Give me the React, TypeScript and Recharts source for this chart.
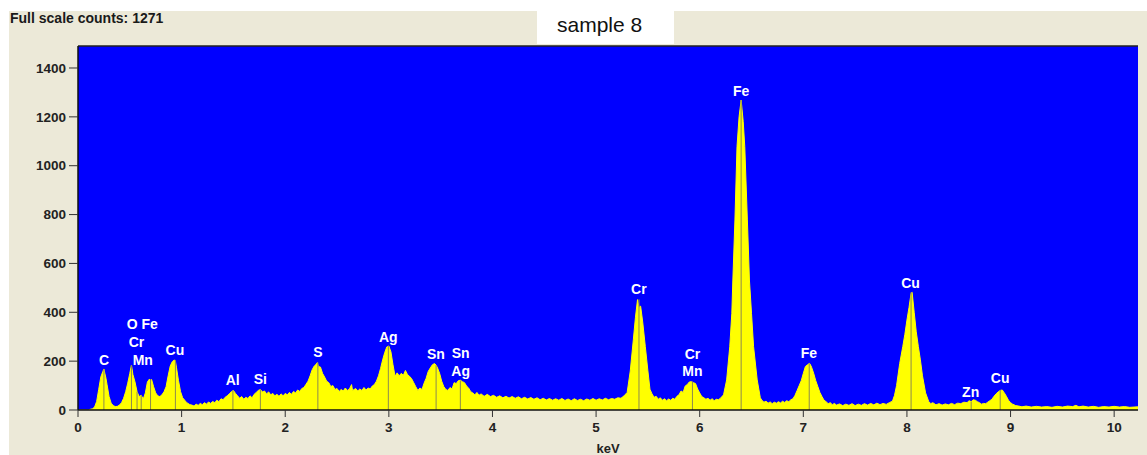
import React from 'react';
import { ComposedChart, Area, XAxis, YAxis, CartesianGrid, ReferenceLine, Scatter } from 'recharts';

// EDS spectrum, [keV, counts]
const spectrumLow: [number, number][] = [
  [0, 0], [0.1, 0], [0.12, 3], [0.14, 5], [0.16, 12], [0.18, 35], [0.2, 85], [0.22, 135], [0.24, 158],
  [0.25, 168], [0.26, 148], [0.27, 130], [0.28, 105], [0.3, 55], [0.32, 28], [0.34, 18], [0.36, 14],
  [0.38, 15], [0.4, 20], [0.42, 30], [0.44, 48], [0.46, 75], [0.48, 110], [0.5, 150], [0.516, 184],
  [0.53, 145], [0.55, 115], [0.57, 75], [0.59, 55], [0.61, 60], [0.63, 45], [0.65, 70], [0.67, 115],
  [0.69, 127], [0.7, 118], [0.71, 125], [0.73, 95], [0.75, 70], [0.77, 58], [0.79, 55], [0.81, 62],
  [0.83, 75], [0.85, 95], [0.87, 140], [0.89, 180], [0.91, 198], [0.93, 205], [0.94, 200], [0.95, 175],
  [0.97, 120], [0.99, 75], [1.01, 50], [1.03, 40], [1.05, 30], [1.08, 22],
];
const spectrumMidLow: [number, number][] = [
  [1.1, 20], [1.12, 16], [1.14, 24], [1.16, 19], [1.18, 27], [1.2, 22], [1.22, 30], [1.24, 24], [1.26, 33],
  [1.28, 27], [1.3, 35], [1.32, 30], [1.34, 40], [1.36, 34], [1.38, 46], [1.4, 42], [1.42, 52], [1.44, 58],
  [1.46, 66], [1.48, 75], [1.5, 80], [1.52, 68], [1.54, 58], [1.56, 48], [1.58, 55], [1.6, 44], [1.62, 52],
  [1.64, 47], [1.66, 58], [1.68, 50], [1.7, 64], [1.72, 72], [1.74, 80], [1.76, 84], [1.78, 74], [1.8, 78],
  [1.82, 66], [1.84, 74], [1.86, 62], [1.88, 68], [1.9, 58], [1.92, 64], [1.94, 56], [1.96, 66], [1.98, 58],
  [2.0, 68], [2.02, 62], [2.04, 72], [2.06, 64], [2.08, 76], [2.1, 70], [2.12, 82], [2.14, 76], [2.16, 88],
  [2.18, 92], [2.2, 105], [2.22, 118], [2.24, 140], [2.26, 165], [2.28, 180], [2.3, 188], [2.31, 194],
  [2.32, 178], [2.34, 176], [2.36, 150], [2.38, 135], [2.4, 118], [2.42, 112], [2.44, 96], [2.46, 100],
  [2.48, 84], [2.5, 88], [2.52, 76], [2.54, 84], [2.56, 78], [2.58, 90], [2.6, 80], [2.62, 86], [2.64, 104],
  [2.65, 80], [2.68, 88], [2.7, 78], [2.72, 86], [2.74, 80], [2.76, 92], [2.78, 82], [2.8, 90], [2.82, 86],
  [2.84, 98], [2.86, 104], [2.88, 118], [2.9, 140], [2.92, 170], [2.94, 205], [2.96, 235], [2.98, 258],
];
const spectrumMid: [number, number][] = [
  [3.0, 262], [3.01, 250], [3.02, 238], [3.04, 185], [3.06, 138], [3.08, 152], [3.1, 140], [3.12, 150],
  [3.14, 142], [3.16, 162], [3.18, 145], [3.2, 138], [3.22, 128], [3.24, 112], [3.26, 95], [3.28, 80],
  [3.3, 90], [3.32, 84], [3.34, 110], [3.36, 130], [3.38, 158], [3.4, 172], [3.42, 185], [3.44, 190],
  [3.456, 184], [3.47, 172], [3.49, 150], [3.51, 118], [3.53, 96], [3.55, 84], [3.57, 80], [3.59, 92],
  [3.61, 86], [3.63, 112], [3.65, 108], [3.67, 120], [3.69, 122], [3.71, 116], [3.73, 112], [3.75, 98],
  [3.77, 90], [3.79, 75], [3.81, 70], [3.83, 62], [3.85, 72], [3.87, 60], [3.89, 66], [3.92, 56], [3.95, 64],
  [3.98, 55], [4.01, 60], [4.04, 52], [4.07, 58], [4.1, 50], [4.13, 56], [4.16, 49], [4.19, 55], [4.22, 48],
  [4.25, 54], [4.28, 46], [4.31, 52], [4.34, 45], [4.37, 51], [4.4, 44], [4.43, 50], [4.46, 42], [4.49, 48],
  [4.52, 41], [4.55, 47], [4.58, 40], [4.61, 46], [4.64, 40], [4.67, 47], [4.7, 39], [4.73, 45], [4.76, 38],
  [4.79, 46], [4.82, 39], [4.85, 44], [4.88, 38], [4.91, 45], [4.94, 40], [4.97, 47], [5.0, 40], [5.03, 46],
  [5.06, 41], [5.09, 48], [5.12, 42], [5.15, 47], [5.18, 44], [5.21, 50], [5.24, 48], [5.27, 58],
];
const spectrumFe: [number, number][] = [
  [5.3, 72], [5.33, 160], [5.36, 290], [5.38, 380], [5.4, 452], [5.415, 420], [5.43, 425], [5.45, 360],
  [5.475, 260], [5.5, 160], [5.52, 85], [5.54, 66], [5.56, 52], [5.58, 56], [5.6, 44], [5.62, 50], [5.64, 40],
  [5.66, 46], [5.68, 38], [5.7, 45], [5.72, 40], [5.74, 48], [5.76, 44], [5.78, 56], [5.8, 62], [5.82, 78],
  [5.84, 72], [5.86, 98], [5.88, 104], [5.9, 115], [5.92, 116], [5.94, 112], [5.96, 108], [5.98, 86],
  [6.0, 70], [6.02, 55], [6.04, 50], [6.06, 44], [6.08, 48], [6.1, 40], [6.12, 46], [6.14, 38], [6.16, 44],
  [6.18, 42], [6.2, 48], [6.23, 62], [6.26, 123], [6.29, 259], [6.31, 396], [6.32, 532], [6.34, 778],
  [6.36, 1078], [6.38, 1200], [6.4, 1269], [6.42, 1180], [6.435, 1078], [6.46, 778], [6.48, 532],
  [6.5, 396], [6.52, 259], [6.555, 123], [6.585, 50], [6.6, 40], [6.62, 32], [6.64, 36], [6.66, 28],
  [6.68, 33], [6.7, 26], [6.72, 32], [6.74, 28], [6.76, 34], [6.78, 29], [6.8, 36], [6.82, 31], [6.84, 38],
  [6.86, 34], [6.88, 42], [6.9, 46], [6.92, 60], [6.94, 80], [6.96, 100], [6.98, 120], [7.0, 150],
  [7.02, 178], [7.04, 185], [7.06, 191], [7.07, 184], [7.08, 175], [7.1, 150], [7.12, 120], [7.14, 96],
  [7.16, 72], [7.18, 55], [7.2, 40], [7.22, 34], [7.24, 26], [7.26, 30],
];
const spectrumHigh: [number, number][] = [
  [7.28, 22], [7.3, 27], [7.32, 20], [7.35, 25], [7.38, 18], [7.41, 24], [7.44, 19], [7.47, 26], [7.5, 18],
  [7.53, 24], [7.56, 19], [7.59, 26], [7.62, 20], [7.65, 27], [7.68, 21], [7.71, 28], [7.74, 22], [7.77, 27],
  [7.8, 23], [7.83, 30], [7.86, 36], [7.88, 60], [7.9, 100], [7.93, 190], [7.96, 260], [7.98, 310],
  [8.0, 368], [8.02, 420], [8.04, 478], [8.05, 482], [8.07, 400], [8.09, 320], [8.11, 260], [8.13, 205],
  [8.15, 140], [8.18, 70], [8.21, 35], [8.23, 26], [8.25, 30], [8.28, 21], [8.31, 26], [8.34, 20],
  [8.37, 25], [8.4, 21], [8.43, 27], [8.46, 22], [8.49, 28], [8.52, 26], [8.55, 32], [8.58, 30], [8.6, 38],
  [8.62, 34], [8.64, 42], [8.66, 40], [8.68, 34], [8.7, 30], [8.72, 24], [8.74, 27], [8.76, 26], [8.78, 32],
  [8.8, 38], [8.82, 44], [8.84, 56], [8.86, 66], [8.88, 74], [8.9, 80], [8.92, 82], [8.94, 70], [8.96, 56],
  [8.98, 40], [9.0, 30], [9.02, 24], [9.05, 18], [9.08, 16], [9.11, 13], [9.15, 16], [9.2, 12], [9.25, 15],
  [9.3, 12], [9.35, 14], [9.4, 11], [9.45, 15], [9.5, 12], [9.55, 16], [9.6, 14], [9.63, 19], [9.66, 13],
  [9.7, 16], [9.75, 12], [9.8, 15], [9.85, 11], [9.9, 14], [9.95, 12], [10.0, 15], [10.05, 12], [10.1, 14],
  [10.15, 11], [10.23, 13],
];

// element line markers
const markerKeV = [0.25, 0.516, 0.57, 0.61, 0.7, 0.94, 1.495, 1.76, 2.315, 2.995, 3.456, 3.69, 5.414, 5.93, 6.4, 7.057, 8.04, 8.62, 8.9];
const markerTop = [168, 184, 75, 60, 125, 205, 80, 84, 194, 262, 184, 120, 453, 116, 1269, 191, 482, 34, 82];

// element labels (text, keV, level in counts)
const labelText = ['C', 'O Fe', 'Cr', 'Mn', 'Cu', 'Al', 'Si', 'S', 'Ag', 'Sn', 'Sn', 'Ag', 'Cr', 'Cr', 'Mn', 'Fe', 'Fe', 'Cu', 'Zn', 'Cu'];
const labelKeV = [0.252, 0.62, 0.564, 0.625, 0.935, 1.493, 1.759, 2.316, 2.994, 3.454, 3.693, 3.693, 5.413, 5.93, 5.93, 6.4, 7.053, 8.035, 8.615, 8.9];
const labelLevel = [205, 352, 278, 205, 246, 123, 127, 237, 299, 229, 233, 160, 495, 229, 160, 1307, 233, 520, 74, 131];

const xTicks = [0, 1, 2, 3, 4, 5, 6, 7, 8, 9, 10];
const yTicks = [0, 200, 400, 600, 800, 1000, 1200, 1400];
const X_MAX = 10.23;
const Y_MAX = 1490;

const FONT = '"Liberation Sans", Arial, sans-serif';

export default function App() {
  const data = [...spectrumLow, ...spectrumMidLow, ...spectrumMid, ...spectrumFe, ...spectrumHigh].map(
    ([keV, counts]) => ({ keV, counts })
  );
  const labels = labelText.map((text, i) => ({ text, keV: labelKeV[i], level: labelLevel[i] }));
  const tickStyle = { fontSize: 13.5, fontWeight: 'bold', fill: '#222', fontFamily: FONT };

  return (
    <div style={{ position: 'fixed', left: 0, top: 0, width: 1147, height: 455, background: '#fff', overflow: 'hidden', fontFamily: FONT }}>
      <div style={{ position: 'absolute', left: 9, top: 11, right: 0, bottom: 0, background: '#ECE9D8' }} />
      <div style={{ position: 'absolute', left: 537, top: 0, width: 137, height: 44, background: '#fff' }} />
      <div style={{ position: 'absolute', left: 557, top: 14, fontSize: 21, lineHeight: '21px', color: '#111', whiteSpace: 'nowrap' }}>sample 8</div>
      <div style={{ position: 'absolute', left: 10, top: 11, fontSize: 14, lineHeight: '14px', fontWeight: 'bold', color: '#1a1a1a', whiteSpace: 'nowrap' }}>
        Full scale counts: 1271
      </div>
      <div style={{ position: 'absolute', left: 0, top: 0 }}>
        <ComposedChart width={1147} height={455} data={data} margin={{ top: 46, right: 9, bottom: 0, left: 0 }}>
          <CartesianGrid horizontal={false} vertical={false} fill="#0000FF" fillOpacity={1} />
          <XAxis
            type="number"
            dataKey="keV"
            domain={[0, X_MAX]}
            ticks={xTicks}
            allowDataOverflow
            height={45}
            tick={tickStyle}
            tickSize={7}
            tickMargin={5}
            tickLine={{ stroke: '#333' }}
            axisLine={{ stroke: '#111', strokeWidth: 1.5 }}
            label={{ value: 'keV', position: 'insideBottom', offset: 2, style: { fontSize: 13, fontWeight: 'bold', fill: '#222', fontFamily: FONT } }}
          />
          <YAxis
            type="number"
            domain={[0, Y_MAX]}
            ticks={yTicks}
            allowDataOverflow
            width={78}
            tick={tickStyle}
            tickSize={9}
            tickMargin={3}
            tickLine={{ stroke: '#333' }}
            axisLine={{ stroke: '#111', strokeWidth: 1.5 }}
          />
          <Area
            type="linear"
            dataKey="counts"
            stroke="#FFFF00"
            strokeWidth={1}
            fill="#FFFF00"
            fillOpacity={1}
            dot={false}
            activeDot={false}
            isAnimationActive={false}
          />
          {markerKeV.map((e, i) => (
            <ReferenceLine
              key={'m' + i}
              segment={[{ x: e, y: 0 }, { x: e, y: markerTop[i] }]}
              stroke="#8c8a50"
              strokeWidth={1}
              ifOverflow="visible"
            />
          ))}
          <ReferenceLine y={Y_MAX} stroke="#222" strokeWidth={1.5} ifOverflow="visible" />
          <Scatter
            data={labels}
            dataKey="level"
            isAnimationActive={false}
            shape={(p: any) => (
              <text
                x={p.cx}
                y={p.cy}
                textAnchor="middle"
                dominantBaseline="central"
                fill="#FFFFFF"
                fontWeight="bold"
                fontSize={14}
                fontFamily={FONT}
              >
                {p.payload.text}
              </text>
            )}
          />
        </ComposedChart>
      </div>
    </div>
  );
}
